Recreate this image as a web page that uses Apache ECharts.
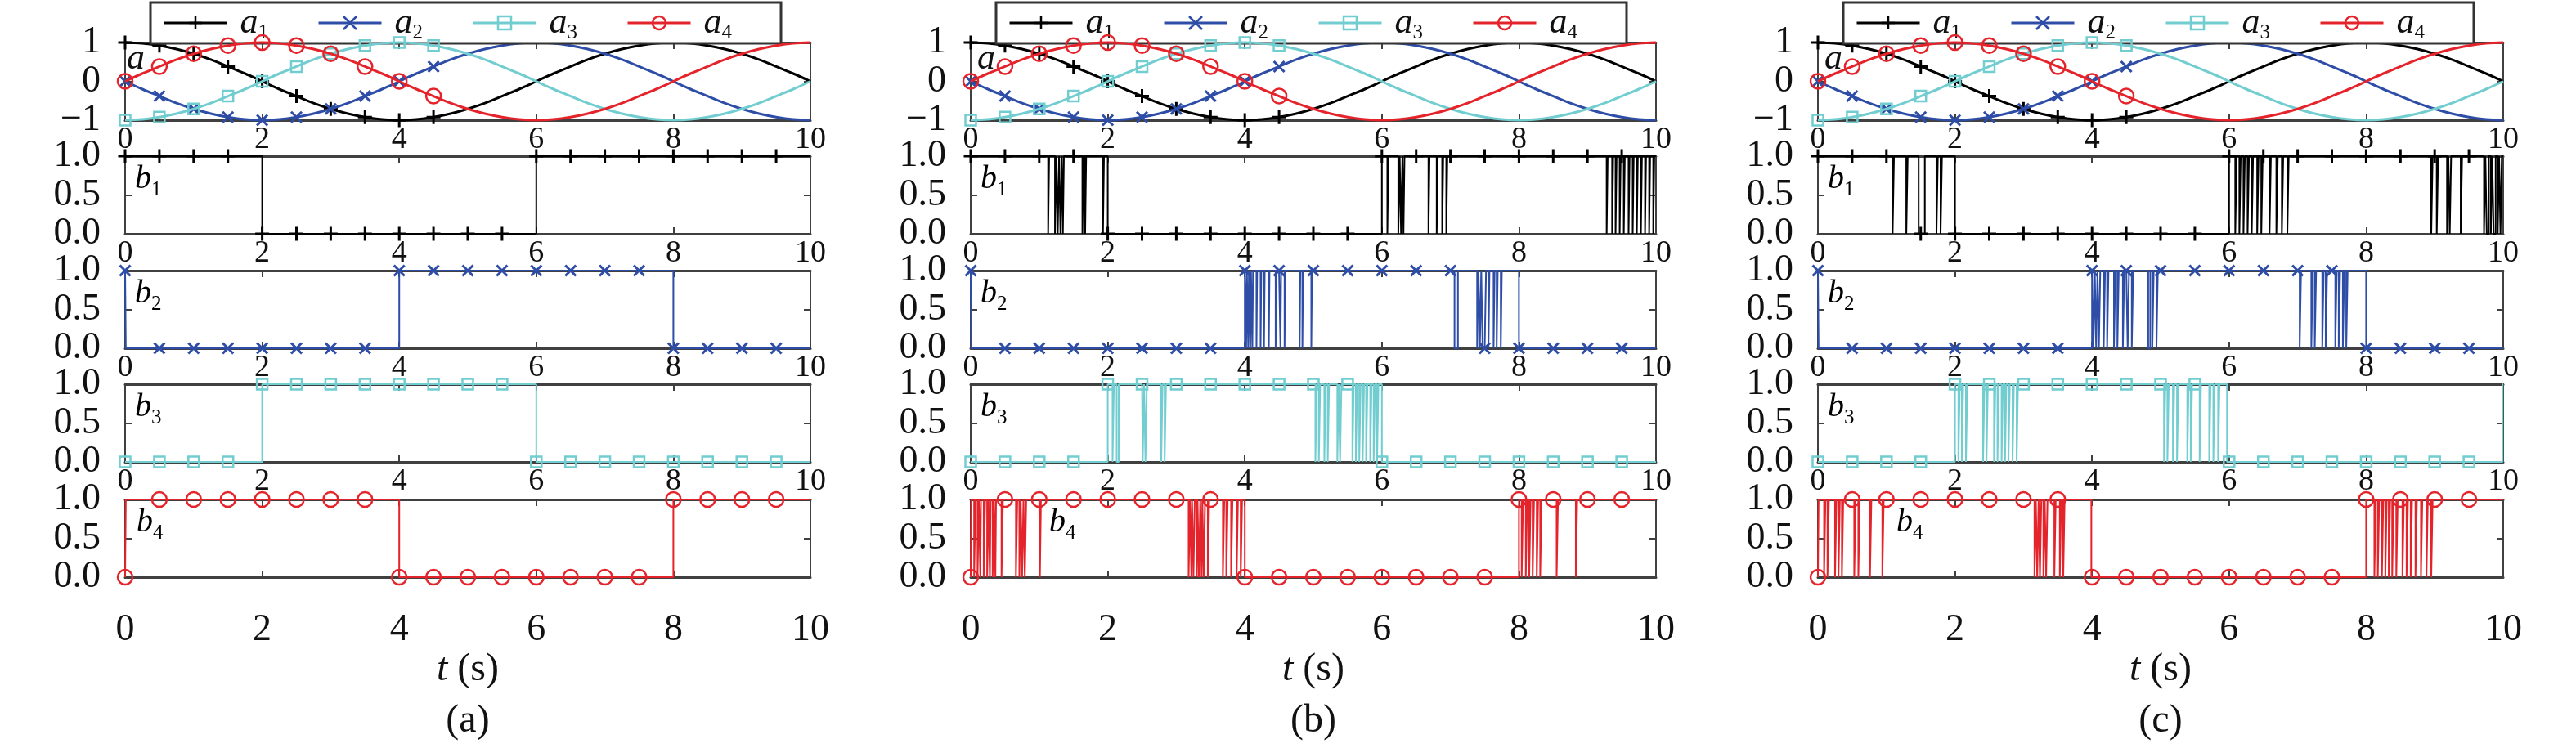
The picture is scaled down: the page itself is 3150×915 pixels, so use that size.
<!DOCTYPE html>
<html><head><meta charset="utf-8">
<script src="https://cdn.jsdelivr.net/npm/echarts@6/dist/echarts.min.js"></script>
<style>html,body{margin:0;padding:0;background:#fff}#c{width:3150px;height:915px}</style>
</head><body><div id="c"></div>
<script>
// ---------- data ----------
const tCurve = [0,0.25,0.5,0.75,1,1.25,1.5,1.75,2,2.25,2.5,2.75,3,3.25,3.5,3.75,4,4.25,4.5,4.75,5,5.25,5.5,5.75,6,6.25,6.5,6.75,7,7.25,7.5,7.75,8,8.25,8.5,8.75,9,9.25,9.5,9.75,10];
const a1 = [1,0.98,0.92,0.83,0.71,0.56,0.38,0.2,0,-0.2,-0.38,-0.56,-0.71,-0.83,-0.92,-0.98,-1,-0.98,-0.92,-0.83,-0.71,-0.56,-0.38,-0.2,0,0.2,0.38,0.56,0.71,0.83,0.92,0.98,1,0.98,0.92,0.83,0.71,0.56,0.38,0.2,0];
const a2 = [0,-0.2,-0.38,-0.56,-0.71,-0.83,-0.92,-0.98,-1,-0.98,-0.92,-0.83,-0.71,-0.56,-0.38,-0.2,0,0.2,0.38,0.56,0.71,0.83,0.92,0.98,1,0.98,0.92,0.83,0.71,0.56,0.38,0.2,0,-0.2,-0.38,-0.56,-0.71,-0.83,-0.92,-0.98,-1];
const a3 = [-1,-0.98,-0.92,-0.83,-0.71,-0.56,-0.38,-0.2,0,0.2,0.38,0.56,0.71,0.83,0.92,0.98,1,0.98,0.92,0.83,0.71,0.56,0.38,0.2,0,-0.2,-0.38,-0.56,-0.71,-0.83,-0.92,-0.98,-1,-0.98,-0.92,-0.83,-0.71,-0.56,-0.38,-0.2,0];
const a4 = [0,0.2,0.38,0.56,0.71,0.83,0.92,0.98,1,0.98,0.92,0.83,0.71,0.56,0.38,0.2,0,-0.2,-0.38,-0.56,-0.71,-0.83,-0.92,-0.98,-1,-0.98,-0.92,-0.83,-0.71,-0.56,-0.38,-0.2,0,0.2,0.38,0.56,0.71,0.83,0.92,0.98,1];
const curveMarkTimes = [0,0.5,1,1.5,2,2.5,3,3.5,4,4.5];
const markTimes = [0,0.5,1,1.5,2,2.5,3,3.5,4,4.5,5,5.5,6,6.5,7,7.5,8,8.5,9,9.5];

// b-signals: initial state and switching instants (s)
const initA = [1,1,0,0];
const a_b1 = [2,6];
const a_b2 = [0.01,4,8];
const a_b3 = [2,6];
const a_b4 = [0.01,4,8];

const initB = [1,1,0,0];
const b_b1 = [1.13,1.145,1.23,1.25,1.27,1.29,1.31,1.33,1.345,1.36,1.63,1.645,1.67,1.685,1.93,1.945,2.0,
  6.0,6.08,6.095,6.24,6.26,6.28,6.30,6.315,6.33,6.68,6.695,6.8,6.815,6.88,6.895,6.94,6.955,
  9.28,9.295,9.36,9.375,9.41,9.425,9.47,9.485,9.53,9.545,9.6,9.615,9.66,9.675,9.72,9.735,9.78,9.795,9.84,9.855,9.9,9.915,9.96,9.975];
const b_b2 = [0.01,4.0,4.02,4.03,4.05,4.06,4.08,4.09,4.11,4.12,4.17,4.18,4.23,4.24,4.28,4.29,4.35,4.36,4.45,4.46,4.52,4.53,4.58,4.59,4.8,4.81,4.84,4.85,4.97,4.98,
  7.06,7.11,7.39,7.41,7.43,7.45,7.47,7.52,7.555,7.57,7.63,7.645,7.675,7.69,7.735,7.75,8.0];
const b_b3 = [2.0,2.07,2.09,2.13,2.16,2.51,2.53,2.55,2.57,2.78,2.8,2.83,2.85,5.03,5.05,5.08,5.1,5.16,5.18,5.21,5.23,5.35,5.37,5.39,5.41,
  5.57,5.59,5.62,5.64,5.67,5.69,5.72,5.74,5.77,5.79,5.83,5.85,5.88,5.9,5.93,5.95,6.0];
const b_b4 = [0.01,0.05,0.07,0.1,0.12,0.14,0.15,0.19,0.21,0.24,0.26,0.28,0.29,0.32,0.34,0.36,0.37,0.45,0.47,0.66,0.68,0.71,0.73,0.75,0.77,0.79,0.81,1.01,1.025,
  3.18,3.2,3.22,3.23,3.25,3.27,3.3,3.31,3.33,3.35,3.37,3.38,3.4,3.42,3.46,3.48,3.68,3.7,3.73,3.75,3.8,3.82,3.88,3.9,3.94,3.96,4.0,
  8.0,8.04,8.06,8.1,8.12,8.15,8.17,8.2,8.22,8.26,8.28,8.31,8.33,8.55,8.57,8.83,8.85];

const initC = [1,1,0,0];
const c_b1 = [1.09,1.11,1.29,1.31,1.47,1.56,1.73,1.75,1.79,1.81,2.0,
  6.0,6.09,6.11,6.15,6.17,6.21,6.23,6.27,6.29,6.33,6.35,6.41,6.43,6.47,6.49,6.59,6.61,6.69,6.71,6.77,6.79,6.85,6.87,
  8.95,8.97,9.03,9.05,9.18,9.2,9.22,9.24,9.38,9.4,9.72,9.74,9.76,9.79,9.82,9.84,9.86,9.89,9.92,9.94,9.96,9.98];
const c_b2 = [0.01,4.0,4.02,4.04,4.06,4.08,4.1,4.12,4.17,4.19,4.22,4.24,4.32,4.34,4.37,4.39,4.45,4.47,4.52,4.54,4.58,4.6,4.82,4.85,4.88,4.9,4.94,4.96,
  7.03,7.05,7.2,7.22,7.25,7.27,7.36,7.38,7.41,7.43,7.55,7.57,7.6,7.62,7.66,7.68,7.71,7.73,8.0];
const c_b3 = [2.0,2.05,2.07,2.1,2.12,2.16,2.18,2.41,2.43,2.46,2.48,2.57,2.59,2.62,2.64,2.68,2.7,2.73,2.75,2.78,2.8,2.84,2.86,2.9,2.92,
  5.05,5.07,5.1,5.12,5.18,5.2,5.24,5.26,5.39,5.41,5.44,5.46,5.57,5.59,5.71,5.73,5.77,5.79,5.84,5.86,5.97,9.99];
const c_b4 = [0.01,0.09,0.11,0.14,0.16,0.25,0.27,0.3,0.32,0.35,0.37,0.53,0.55,0.59,0.61,0.76,0.78,0.94,0.96,
  3.16,3.18,3.2,3.22,3.24,3.26,3.29,3.31,3.33,3.35,3.45,3.47,3.53,3.55,3.58,3.6,3.99,
  8.0,8.12,8.14,8.17,8.19,8.23,8.25,8.28,8.3,8.33,8.35,8.38,8.4,8.44,8.46,8.53,8.55,8.59,8.61,8.65,8.67,8.72,8.74,8.8,8.82,8.88,8.9,8.95,8.97];

const xTickLabels = ['0','2','4','6','8','10'];
const aTickLabels = ['\u22121','0','1'];
const bTickLabels = ['0.0','0.5','1.0'];
const legendNames = ['a1','a2','a3','a4'];
const panelTags = ['(a)','(b)','(c)'];

// ---------- layout / style ----------
const FF = "'Liberation Serif','Times New Roman',serif";
const TXT = '#111';
const FRAME = '#404040';
const COLORS = ['#000000','#2E4DA7','#72CDD0','#E5232B'];
const SYMBOLS = ['path://M0,-1L0,1M-1,0L1,0','path://M-1,-1L1,1M-1,1L1,-1','path://M-1,-1L1,-1L1,1L-1,1Z','path://M1,0A1,1,0,1,1,-1,0A1,1,0,1,1,1,0Z'];
const SYMSIZE = [17,13,13,18];
const SYMBW = [3,3,2.5,2.5];
const L = [153,1187,2223];
const W = 838, H = 95;
const ROWTOP = [52,191,331,470,611];
const curves = [a1,a2,a3,a4];
const panelsInit = [initA,initB,initC];
const panelsTog = [[a_b1,a_b2,a_b3,a_b4],[b_b1,b_b2,b_b3,b_b4],[c_b1,c_b2,c_b3,c_b4]];
const b4LabelOff = [14,96,96];

function stepData(init, toggles){
  const stateAt = t => { let v = init; for (const x of toggles) if (x <= t + 1e-9) v = 1 - v; return v; };
  const ev = [];
  toggles.forEach(t => ev.push({t, k:0}));
  markTimes.forEach(t => ev.push({t, k:1}));
  ev.sort((p,q) => p.t - q.t || p.k - q.k);
  const data = [{value:[0, init], symbol:'none'}];
  ev.forEach(e => {
    const v = stateAt(e.t);
    data.push(e.k ? {value:[e.t, v]} : {value:[e.t, v], symbol:'none'});
  });
  data.push({value:[10, stateAt(10)], symbol:'none'});
  return data;
}

const grids = [], xAxis = [], yAxis = [], series = [], graphic = [], legend = [];
const subRich = (main, sub, pad) => ({
  i:{fontFamily:FF, fontStyle:'italic', fontSize:main, lineHeight:main, color:TXT},
  s:{fontFamily:FF, fontSize:sub, lineHeight:main-pad, padding:[pad,0,0,0], color:TXT}
});

for (let p = 0; p < 3; p++) {
  for (let r = 0; r < 5; r++) {
    const gi = grids.length;
    grids.push({left:L[p], top:ROWTOP[r], width:W, height:H});
    const bottomRow = r === 4;
    xAxis.push({gridIndex:gi, type:'value', min:0, max:10, interval:2, position:'bottom',
      axisLine:{show:true, onZero:false, lineStyle:{color:FRAME, width:3}},
      axisTick:{show:true, inside:true, length:8, lineStyle:{color:FRAME, width:2}},
      axisLabel:{margin: bottomRow ? 42 : 5, fontSize: bottomRow ? 46 : 38, fontFamily:FF, color:TXT,
        formatter: v => xTickLabels[Math.round(v/2)]},
      splitLine:{show:false},
      name: bottomRow ? '{t|t}{u| (s)}' : '', nameLocation:'middle', nameGap:87,
      nameTextStyle:{rich:{t:{fontFamily:FF, fontStyle:'italic', fontSize:48, lineHeight:48, color:TXT},
                           u:{fontFamily:FF, fontSize:48, lineHeight:48, color:TXT}}}
    });
    xAxis.push({gridIndex:gi, type:'value', min:0, max:10, interval:2, position:'top',
      axisLine:{show:true, onZero:false, lineStyle:{color:FRAME, width:3}},
      axisTick:{show:true, inside:true, length:8, lineStyle:{color:FRAME, width:2}},
      axisLabel:{show:false}, splitLine:{show:false}});
    const isA = r === 0;
    yAxis.push({gridIndex:gi, type:'value', min: isA ? -1 : 0, max:1, interval: isA ? 1 : 0.5, position:'left',
      axisLine:{show:true, onZero:false, lineStyle:{color:FRAME, width:2}},
      axisTick:{show:true, inside:true, length:8, lineStyle:{color:FRAME, width:2}},
      axisLabel:{margin:30, fontSize:46, fontFamily:FF, color:TXT, padding: isA ? [8,0,0,0] : [12,0,0,0],
        formatter: v => isA ? aTickLabels[Math.round(v+1)] : bTickLabels[Math.round(v*2)]},
      splitLine:{show:false}});
    yAxis.push({gridIndex:gi, type:'value', min: isA ? -1 : 0, max:1, interval: isA ? 1 : 0.5, position:'right',
      axisLine:{show:true, onZero:false, lineStyle:{color:FRAME, width:2}},
      axisTick:{show:true, inside:true, length:8, lineStyle:{color:FRAME, width:2}},
      axisLabel:{show:false}, splitLine:{show:false}});

    if (isA) {
      for (let k = 0; k < 4; k++) {
        series.push({type:'line', name:legendNames[k], xAxisIndex:2*gi, yAxisIndex:2*gi, clip:false,
          smooth:0.35, symbol:SYMBOLS[k], symbolSize:SYMSIZE[k], showSymbol:true,
          lineStyle:{color:COLORS[k], width:3},
          itemStyle:{color:'rgba(0,0,0,0)', borderColor:COLORS[k], borderWidth:SYMBW[k]},
          emphasis:{disabled:true}, z:2+k,
          data: tCurve.map((t,i) => curveMarkTimes.indexOf(t) >= 0 ? {value:[t, curves[k][i]]} : {value:[t, curves[k][i]], symbol:'none'})
        });
      }
      graphic.push({type:'text', x:L[p] + (p === 0 ? 2 : 8), y:ROWTOP[r] + 20, z:1,
        style:{text:'a', font:"italic 44px 'Liberation Serif'", fill:TXT, align:'left', verticalAlign:'middle'}});
    } else {
      const k = r - 1;
      series.push({type:'line', name:'b' + (k+1), xAxisIndex:2*gi, yAxisIndex:2*gi, clip:false,
        step:'end', symbol:SYMBOLS[k], symbolSize:SYMSIZE[k], showSymbol:true,
        lineStyle:{color:COLORS[k], width:2},
        itemStyle:{color:'rgba(0,0,0,0)', borderColor:COLORS[k], borderWidth:SYMBW[k]},
        emphasis:{disabled:true}, z:3,
        data: stepData(panelsInit[p][k], panelsTog[p][k])
      });
      const off = k === 3 ? b4LabelOff[p] : 12;
      graphic.push({type:'text', x:L[p] + off, y:ROWTOP[r] + 28, z:100,
        style:{text:'{i|b}{s|' + (k+1) + '}', rich:subRich(40,25,26), align:'left', verticalAlign:'middle'}});
    }
  }
  graphic.push({type:'text', x:L[p] + W/2, y:882, z:100,
    style:{text:panelTags[p], font:"48px 'Liberation Serif'", fill:TXT, align:'center', verticalAlign:'middle'}});
  legend.push({left:L[p] + 31, top:3, orient:'horizontal', data:legendNames, selectedMode:false,
    itemWidth:77, itemHeight:20, itemGap:60, padding:[0,60,0,15],
    borderColor:'#333', borderWidth:3, backgroundColor:'#fff',
    lineStyle:{width:3}, itemStyle:{borderWidth:2.5},
    formatter: n => '{i|a}{s|' + n.slice(1) + '}',
    textStyle:{color:TXT, rich:Object.assign(subRich(44,25,25), {})}
  });
}
legend.forEach(lg => { lg.textStyle.rich.i.padding = [0,0,0,11]; });

const chart = echarts.init(document.getElementById('c'), null, {renderer:'canvas'});
chart.setOption({animation:false, backgroundColor:'#fff', grid:grids, xAxis, yAxis, series, legend, graphic});
</script></body></html>
